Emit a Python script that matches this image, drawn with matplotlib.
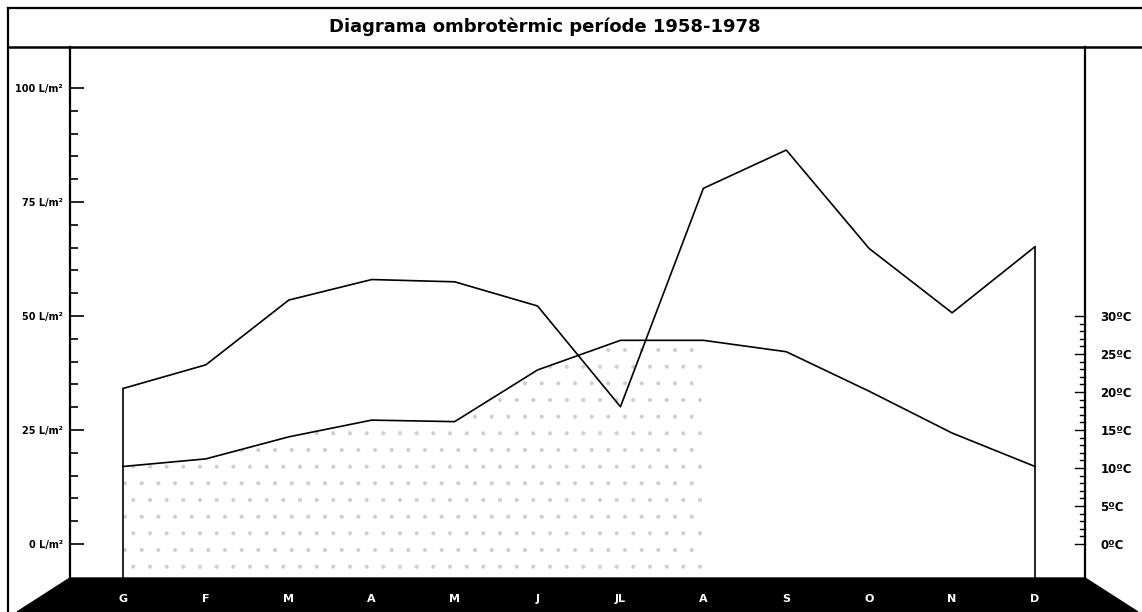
import matplotlib.pyplot as plt
from matplotlib.patches import Polygon
from matplotlib.transforms import blended_transform_factory

W, H = 1142, 612

MONTHS = ['G', 'F', 'M', 'A', 'M', 'J', 'JL', 'A', 'S', 'O', 'N', 'D']
# precipitacio mitjana mensual (L/m2)
PRECIP = [34.1, 39.3, 53.5, 58.0, 57.5, 52.2, 30.1, 78.0, 86.4, 64.8, 50.7, 65.2]
# temperatura mitjana mensual (ºC)
TEMP = [10.2, 11.2, 14.1, 16.3, 16.1, 22.9, 26.8, 26.8, 25.3, 20.1, 14.6, 10.2]

PRECIP_TICKS = [0, 25, 50, 75, 100]
TEMP_TICKS = [0, 5, 10, 15, 20, 25, 30]
TITLE = 'Diagrama ombrotèrmic període 1958-1978'

# escala: 25 L/m2 <-> 15 ºC
T_SCALE = 15 / 25
P_LIM = (-7.46, 109.0)

plt.rcParams['hatch.color'] = '#cfcfcf'
plt.rcParams['hatch.linewidth'] = 0.5

fig = plt.figure(figsize=(W / 100, H / 100), dpi=100)

# capa de fons en pixels (marc, titol, base negra)
bg = fig.add_axes([0, 0, 1, 1], zorder=0)
bg.set_xlim(0, W)
bg.set_ylim(H, 0)
bg.axis('off')
bg.plot([8, 8], [8, H], color='black', lw=1.6)
bg.plot([8, W], [8, 8], color='black', lw=1.6)
bg.plot([8, W], [47, 47], color='black', lw=1.8)
bg.add_patch(Polygon([(70, 578), (1085, 578), (1138, H), (17, H)],
                     closed=True, facecolor='black', edgecolor='black'))
bg.text(545, 27, TITLE, ha='center', va='center', fontsize=13,
        fontweight='bold', family='DejaVu Sans')

left, right, bottom, top = 70 / W, 1085 / W, 1 - 578 / H, 1 - 47 / H
ax = fig.add_axes([left, bottom, right - left, top - bottom], zorder=2)
ax.patch.set_visible(False)

x = list(range(len(MONTHS)))
step = (1035 - 123) / 11
ax.set_xlim(-(123 - 70) / step, 11 + (1085 - 1035) / step)
ax.set_ylim(*P_LIM)

temp_p = [t / T_SCALE for t in TEMP]
ax.plot(x, PRECIP, color='black', lw=1.2)
ax.plot(x, temp_p, color='black', lw=1.2)
ax.vlines([x[0], x[-1]], P_LIM[0], [PRECIP[0], PRECIP[-1]], color='black', lw=1.2)

# punteig sota la corba de temperatura
ax.fill_between(x[:8], P_LIM[0], temp_p[:8], facecolor='none',
                edgecolor='#cfcfcf', lw=0, hatch='.')

for s in ['top', 'bottom']:
    ax.spines[s].set_visible(False)
ax.spines['left'].set_linewidth(1.6)
ax.spines['right'].set_linewidth(1.6)

ax.set_xticks([])
ax.set_yticks(PRECIP_TICKS)
ax.set_yticklabels([f'{v} L/m²' for v in PRECIP_TICKS], fontsize=7,
                   family='Liberation Sans Narrow', fontweight='bold')
ax.set_yticks(range(0, 101, 5), minor=True)
ax.tick_params(axis='y', which='major', direction='in', length=10, width=1.2, pad=5)
ax.tick_params(axis='y', which='minor', direction='in', length=6, width=1.2)

# eix de temperatura a la dreta
ax2 = ax.twinx()
ax2.set_ylim(P_LIM[0] * T_SCALE, P_LIM[1] * T_SCALE)
for s in ['top', 'bottom', 'left', 'right']:
    ax2.spines[s].set_visible(False)
ax2.set_yticks(TEMP_TICKS)
ax2.set_yticklabels([f'{v}ºC' for v in TEMP_TICKS], fontsize=8.5, fontweight='bold')
ax2.tick_params(axis='y', which='major', length=0, pad=11)
# marques cap a dins de l'eix dret
rtrans = blended_transform_factory(ax2.transAxes, ax2.transData)
for v in range(0, 31):
    ln = 10 if v % 5 == 0 else 5
    ax2.plot([1 - ln / (1085 - 70), 1], [v, v], transform=rtrans,
             color='black', lw=1.0, clip_on=False)

# mesos a la base negra
trans = blended_transform_factory(ax.transData, ax.transAxes)
for i, m in enumerate(MONTHS):
    ax.text(i, -(599 - 578) / (578 - 47), m, transform=trans, ha='center', va='center',
            color='white', fontsize=8, fontweight='bold')

fig.savefig('out.png', dpi=100)
